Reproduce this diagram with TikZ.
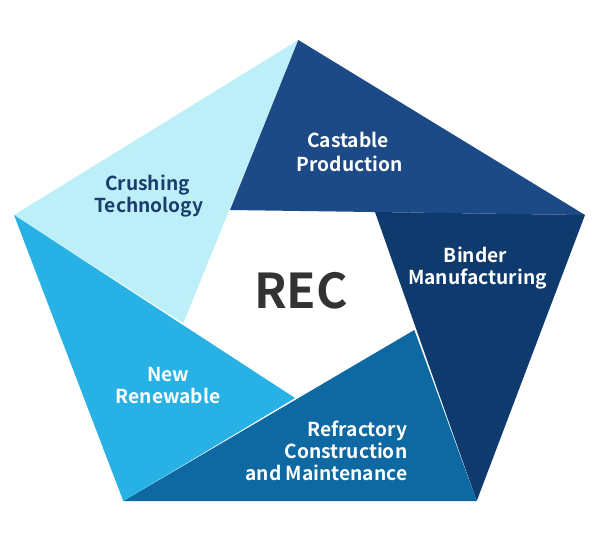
\documentclass[tikz,border=0pt]{standalone}
\usepackage{fontspec}
\setmainfont{Noto Sans CJK KR}[BoldFont={Noto Sans CJK KR Bold}]
\definecolor{cCrush}{HTML}{BDEFF8}
\definecolor{cCast}{HTML}{1C4A86}
\definecolor{cBind}{HTML}{0F3A6D}
\definecolor{cRefr}{HTML}{0E69A2}
\definecolor{cNew}{HTML}{27B1E4}
\definecolor{cNavy}{HTML}{1A3D6B}
\definecolor{cRec}{HTML}{333333}
\begin{document}
\begin{tikzpicture}[x=1pt,y=-1pt,
  lab/.style={anchor=base,inner sep=0pt,font=\fontsize{19.2}{23}\selectfont\bfseries},
  wlab/.style={lab,text=white},
  nlab/.style={lab,text=cNavy}]
\useasboundingbox (0,0) rectangle (596,552);
% outer vertices
\coordinate (T) at (298.3,40);
\coordinate (R) at (585,215);
\coordinate (BR) at (476.7,501);
\coordinate (BL) at (123.3,501);
\coordinate (L) at (14,215);
% inner vertices
\coordinate (iTL) at (230,210);
\coordinate (iTR) at (375,212);
\coordinate (iR) at (414.3,330);
\coordinate (iB) at (295,398);
\coordinate (iL) at (183.3,323.3);
% triangles
\fill[cCrush] (T) -- (L) -- (iL) -- cycle;
\fill[cCast] (T) -- (R) -- (iTL) -- cycle;
\fill[cBind] (R) -- (BR) -- (iTR) -- cycle;
\fill[cRefr] (BR) -- (BL) -- (iR) -- cycle;
\fill[cNew] (BL) -- (L) -- (iB) -- cycle;
% labels
\node[nlab] (crush1) at (147.5,190.7) {Crushing};
\node[nlab] (crush2) at (149,212) {Technology};
\node[wlab] (cast1) at (348,147.7) {Castable};
\node[wlab] (cast2) at (349.5,171.7) {Production};
\node[wlab] (bind1) at (475.5,262) {Binder};
\node[wlab] (bind2) at (477.5,284.7) {Manufacturing};
\node[wlab,anchor=base east] (refr1) at (407.5,436.7) {Refractory};
\node[wlab,anchor=base east] (refr2) at (407.5,458.5) {Construction};
\node[wlab,anchor=base east] (refr3) at (407.5,480.7) {and Maintenance};
\node[wlab] (new1) at (168.5,381) {New};
\node[wlab] (new2) at (168,403) {Renewable};
\node[anchor=base,inner sep=0pt,text=cRec,font=\fontsize{48}{56}\selectfont\bfseries] (rec) at (301,308) {REC};
\end{tikzpicture}
\end{document}
